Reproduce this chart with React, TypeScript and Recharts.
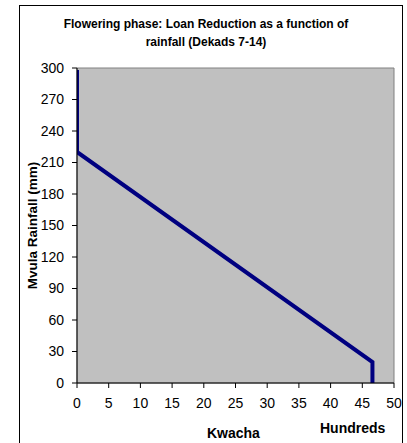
import { LineChart, Line, XAxis, YAxis, ReferenceArea, Label } from "recharts";

const kwachaHundreds = [0, 0, 46.6, 46.6];
const rainfallMm = [298, 220, 20, 0];
const xTicks = [0, 5, 10, 15, 20, 25, 30, 35, 40, 45, 50];
const yTicks = [0, 30, 60, 90, 120, 150, 180, 210, 240, 270, 300];

const data = kwachaHundreds.map((x, i) => ({ x, y: rainfallMm[i] }));

const font = "Arial, 'Liberation Sans', sans-serif";
const tick = { fill: "#000", fontSize: 14, fontFamily: font };

export default function App() {
  return (
    <div style={{ position: "fixed", left: 0, top: 0, width: 407, height: 443, background: "#fff", fontFamily: font }}>
      <div
        style={{
          position: "absolute",
          left: 19,
          top: 5,
          width: 384,
          height: 460,
          border: "1px solid #000",
          boxSizing: "border-box",
        }}
      />
      <div
        style={{
          position: "absolute",
          left: 36,
          top: 15,
          width: 340,
          textAlign: "center",
          fontWeight: "bold",
          fontSize: 12,
          lineHeight: "18px",
          color: "#000",
        }}
      >
        Flowering phase: Loan Reduction as a function of
        <br />
        rainfall (Dekads 7-14)
      </div>
      <LineChart
        width={407}
        height={443}
        data={data}
        margin={{ top: 68, right: 13, bottom: 29, left: 20 }}
        style={{ position: "absolute", left: 0, top: 0 }}
      >
        <XAxis
          dataKey="x"
          type="number"
          domain={[0, 50]}
          ticks={xTicks}
          interval={0}
          height={31}
          tick={tick}
          tickSize={5}
          tickMargin={10}
          stroke="#000"
          allowDataOverflow
        />
        <YAxis
          type="number"
          domain={[0, 300]}
          ticks={yTicks}
          interval={0}
          width={57}
          tick={tick}
          tickSize={5}
          tickMargin={8}
          stroke="#000"
        >
          <Label
            value="Mvula Rainfall (mm)"
            angle={-90}
            position="insideLeft"
            offset={12}
            style={{ fontWeight: "bold", fontSize: 13.5, fill: "#000", fontFamily: font, textAnchor: "middle" }}
          />
        </YAxis>
        <ReferenceArea x1={0} x2={50} y1={0} y2={300} fill="#c0c0c0" fillOpacity={1} stroke="#808080" strokeWidth={1} />
        <Line
          type="linear"
          dataKey="y"
          stroke="#000080"
          strokeWidth={4}
          dot={false}
          isAnimationActive={false}
        />
      </LineChart>
      <div style={{ position: "absolute", left: 207, top: 425, fontWeight: "bold", fontSize: 14, color: "#000" }}>Kwacha</div>
      <div style={{ position: "absolute", left: 320, top: 420, fontWeight: "bold", fontSize: 14, color: "#000" }}>Hundreds</div>
    </div>
  );
}
